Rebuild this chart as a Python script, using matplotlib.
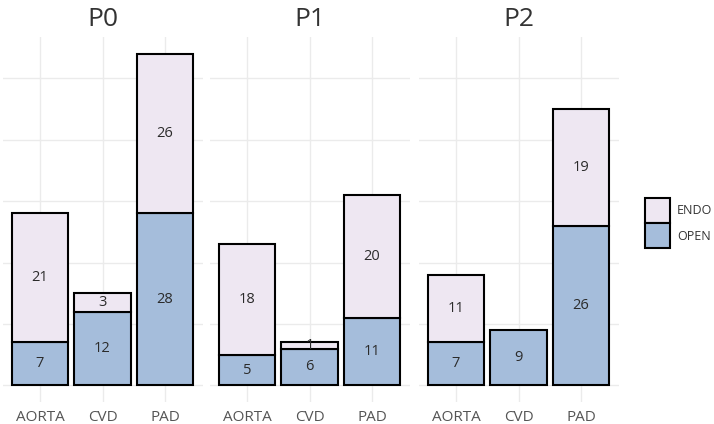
import matplotlib
matplotlib.use('Agg')
import numpy as np
import matplotlib.pyplot as plt
from matplotlib.patches import Patch

plt.rcParams['font.family'] = ['Open Sans', 'DejaVu Sans']

# ── Data ──────────────────────────────────────────────────────────────────────
panels     = ['P0', 'P1', 'P2']
categories = ['AORTA', 'CVD', 'PAD']
open_vals  = [[7, 12, 28], [5, 6, 11], [7, 9, 26]]
endo_vals  = [[21, 3, 26], [18, 1, 20], [11, 0, 19]]

c_open = '#A5BDDB'
c_endo = '#EEE7F2'
grid_c = '#EBEBEB'

ymax = max(o + e for po, pe in zip(open_vals, endo_vals) for o, e in zip(po, pe))

fig = plt.figure(figsize=(7.14, 4.24), dpi=100)
W, H = 714, 424
lefts = [2.5, 209.5, 418.5]
pw = 200
bottom_px, top_px = 402, 37

x = np.arange(len(categories))
for i, name in enumerate(panels):
    ax = fig.add_axes([lefts[i] / W, 1 - bottom_px / H, pw / W, (bottom_px - top_px) / H])
    o = np.array(open_vals[i])
    e = np.array(endo_vals[i])
    ax.bar(x, o, 0.9, color=c_open, edgecolor='black', linewidth=1.5, zorder=3)
    ax.bar(x[e > 0], e[e > 0], 0.9, bottom=o[e > 0], color=c_endo,
           edgecolor='black', linewidth=1.5, zorder=3)
    for xi, ov, ev in zip(x, o, e):
        if ov > 0:
            ax.text(xi, ov / 2, str(ov), ha='center', va='center', fontsize=10.5, color='#2b2b2b', zorder=4)
        if ev > 0:
            ax.text(xi, ov + ev / 2, str(ev), ha='center', va='center', fontsize=10.5, color='#2b2b2b', zorder=4)
    ax.set_xlim(-0.6, 2.6)
    ax.set_ylim(-ymax * 0.05, ymax * 1.05)
    ax.set_yticks(np.arange(0, 60, 10))
    ax.set_yticklabels([])
    ax.set_xticks(x)
    ax.set_xticklabels(categories, fontsize=11, color='#555555')
    ax.tick_params(length=0, pad=6)
    ax.grid(True, color=grid_c, linewidth=1, zorder=0)
    for s in ax.spines.values():
        s.set_visible(False)
    ax.set_title(name, fontsize=19, color='#333333', pad=8)

handles = [Patch(facecolor=c_endo, edgecolor='black', linewidth=1.5, label='ENDO'),
           Patch(facecolor=c_open, edgecolor='black', linewidth=1.5, label='OPEN')]
fig.legend(handles=handles, loc='center left', bbox_to_anchor=(634 / W, 1 - 223 / H),
           frameon=False, fontsize=9, handlelength=2.0, handleheight=2.7,
           labelspacing=0.05, handletextpad=0.55, labelcolor='#333333')

fig.savefig('out.png', dpi=100)
